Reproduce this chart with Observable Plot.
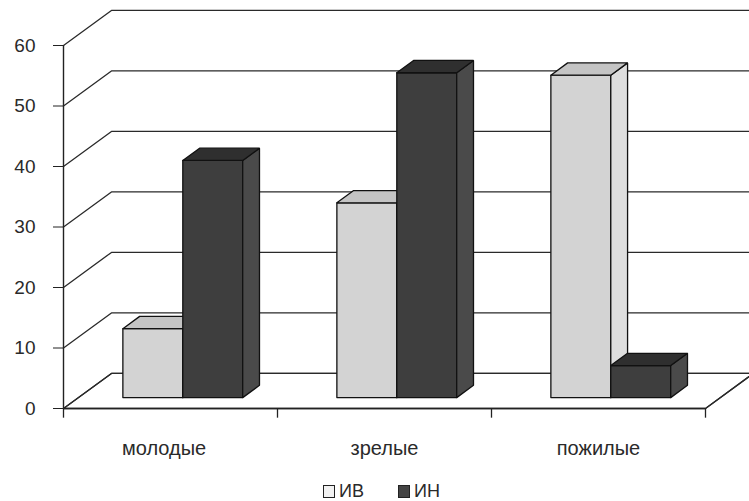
<!DOCTYPE html>
<html>
<head>
<meta charset="utf-8">
<script src="https://cdn.jsdelivr.net/npm/d3@7"></script>
<script src="https://cdn.jsdelivr.net/npm/@observablehq/plot@0.6"></script>
<style>
  html, body { margin: 0; padding: 0; background: #fff; }
  #chart { width: 749px; }
  .legend { display: flex; justify-content: center; align-items: center; gap: 34px;
            font-family: "Liberation Sans", Arial, sans-serif; font-size: 18px; color: #2a2a2a;
            padding-left: 14px; margin-top: 6px; }
  .legend span.item { display: flex; align-items: center; gap: 4px; }
  .legend span.sw { display: inline-block; width: 10px; height: 11px; border: 1.6px solid #222; }
</style>
</head>
<body>
<div id="chart"></div>
<script>
// ---- data ----
const categories = ["молодые", "зрелые", "пожилые"];
const seriesNames = ["ИВ", "ИН"];
const valuesIV = [11.4, 32.2, 53.3];
const valuesIN = [39.2, 53.7, 5.3];
const yTicks = [0, 10, 20, 30, 40, 50, 60];

// ---- styling / projection constants ----
const seriesColors = {
  "ИВ": {front: "#d3d3d3", side: "#dedede", top: "#c4c4c4", swatch: "#f2f2f2"},
  "ИН": {front: "#3e3e3e", side: "#4a4a4a", top: "#2f2f2f", swatch: "#444"}
};
const DX = 0.224;   // x-units of full depth
const DY = 5.8;     // y-units of full depth
const Z0 = 0.31, Z1 = 0.66, BAR_W = 0.28, SHIFT = -0.012;
const yMax = 60, nCat = categories.length;

const P = (x, y, z) => ({x: x + z * DX, y: y + z * DY});

// floor polygon
const floor = [P(0,0,0), P(nCat,0,0), P(nCat,0,1), P(0,0,1), P(0,0,0)].map(p => ({...p, id: "floor", fill: "#fff"}));

// gridlines on side and back wall
const grid = [];
yTicks.forEach(v => {
  [P(0,v,0), P(0,v,1), P(nCat + 0.3,v,1)].forEach(p => grid.push({...p, id: "g" + v}));
});
// right floor edge
const floorEdge = [P(nCat,0,0), P(nCat,0,1)].map(p => ({...p, id: "fe"}));

// bar faces
const faces = [];
categories.forEach((c, i) => {
  const vals = [valuesIV[i], valuesIN[i]];
  seriesNames.forEach((s, j) => {
    const v = vals[j];
    const xl = i + 0.5 + SHIFT - BAR_W + j * BAR_W, xr = xl + BAR_W;
    const col = seriesColors[s];
    const add = (name, pts, fill) => pts.concat([pts[0]]).forEach(p => faces.push({...p, id: `${c}-${s}-${name}`, fill}));
    add("front", [P(xl,0,Z0), P(xr,0,Z0), P(xr,v,Z0), P(xl,v,Z0)], col.front);
    add("side",  [P(xr,0,Z0), P(xr,0,Z1), P(xr,v,Z1), P(xr,v,Z0)], col.side);
    add("top",   [P(xl,v,Z0), P(xr,v,Z0), P(xr,v,Z1), P(xl,v,Z1)], col.top);
  });
});

const labels = categories.map((c, i) => ({x: i + 0.5 - (i === 0 ? 0.03 : 0), y: 0, text: c}));

const chart = Plot.plot({
  width: 749,
  height: 475,
  marginLeft: 63,
  marginRight: 44,
  marginTop: 45,
  marginBottom: 67,
  x: {domain: [0, nCat], axis: null},
  y: {domain: [0, yMax], axis: null},
  color: {type: "identity"},
  style: {fontFamily: "'Liberation Sans', Arial, sans-serif", background: "#fff", color: "#222"},
  marks: [
    Plot.line(floor, {x: "x", y: "y", z: "id", fill: "fill", stroke: "#222", strokeWidth: 1.3}),
    Plot.line(grid, {x: "x", y: "y", z: "id", stroke: "#2a2a2a", strokeWidth: 1.3}),
    Plot.line(floorEdge, {x: "x", y: "y", z: "id", stroke: "#2a2a2a", strokeWidth: 1.3}),
    Plot.ruleX([0], {y1: 0, y2: yMax, stroke: "#222", strokeWidth: 1.4}),
    Plot.ruleY([0], {x1: 0, x2: nCat, stroke: "#222", strokeWidth: 1.4}),
    Plot.ruleX(d3.range(0, nCat + 1), {y1: 0, y2: -1.6, stroke: "#222", strokeWidth: 1.3}),
    Plot.axisY(yTicks, {label: null, tickSize: 10, tickPadding: 18, fontSize: 19, stroke: "#222", fill: "#2a2a2a"}),
    Plot.line(faces, {x: "x", y: "y", z: "id", fill: "fill", stroke: "#111", strokeWidth: 1.3, strokeLinejoin: "miter"}),
    Plot.text(labels, {x: "x", y: "y", text: "text", dy: 40, fontSize: 20, fill: "#2a2a2a"})
  ]
});
document.getElementById("chart").appendChild(chart);

const legend = document.createElement("div");
legend.className = "legend";
seriesNames.forEach(s => {
  const item = document.createElement("span");
  item.className = "item";
  const sw = document.createElement("span");
  sw.className = "sw";
  sw.style.background = seriesColors[s].swatch;
  item.appendChild(sw);
  item.appendChild(document.createTextNode(s));
  legend.appendChild(item);
});
document.getElementById("chart").appendChild(legend);
</script>
</body>
</html>
